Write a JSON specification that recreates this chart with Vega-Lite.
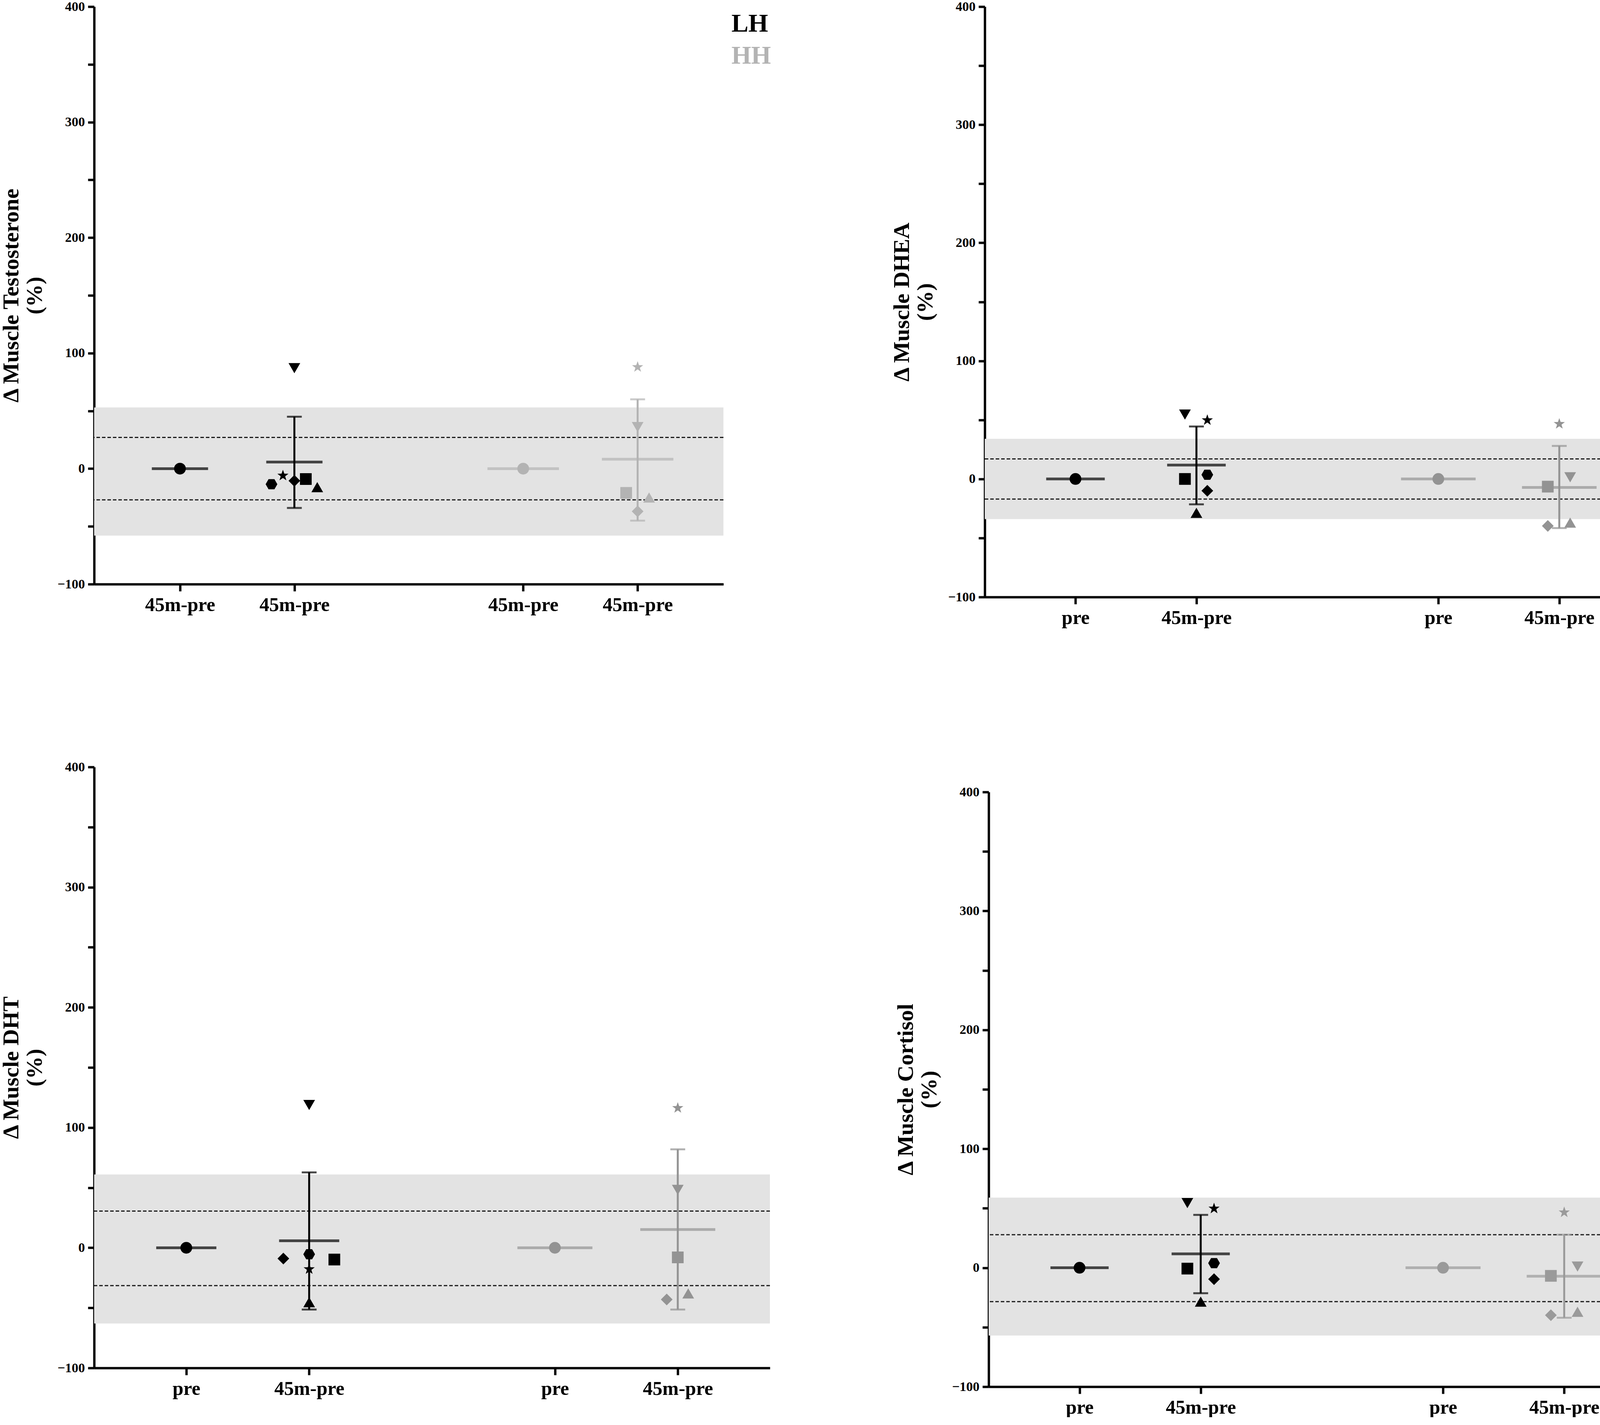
{
  "$schema": "https://vega.github.io/schema/vega-lite/v6.json",
  "background": "white",
  "padding": {"left": 0, "top": 0, "right": 0, "bottom": 0},
  "config": {
    "view": {"stroke": null},
    "axis": {"grid": false, "domainColor": "#000000", "domainWidth": 6, "tickColor": "#000000", "tickWidth": 6, "labelColor": "#000000", "labelFont": "Liberation Serif", "labelFontWeight": "bold", "titleFont": "Liberation Serif", "titleFontWeight": "bold", "titleColor": "#000000"},
    "axisX": {"labelFontSize": 50, "tickSize": 18, "labelPadding": 10},
    "axisY": {"labelFontSize": 34, "labelPadding": 8, "tickSize": 16, "titleFontSize": 58, "titlePadding": 28}
  },
  "datasets": {
    "points": [
      {"panel": "T", "group": "LH", "subject": "pre", "px": 0.75, "val": 0},
      {"panel": "T", "group": "LH", "subject": "s1", "px": 1.55, "val": -13.5},
      {"panel": "T", "group": "LH", "subject": "s2", "px": 1.65, "val": -6},
      {"panel": "T", "group": "LH", "subject": "s3", "px": 1.75, "val": -10.5},
      {"panel": "T", "group": "LH", "subject": "s4", "px": 1.85, "val": -9},
      {"panel": "T", "group": "LH", "subject": "s5", "px": 1.95, "val": -16},
      {"panel": "T", "group": "LH", "subject": "s6", "px": 1.75, "val": 87},
      {"panel": "T", "group": "HH", "subject": "pre", "px": 3.75, "val": 0},
      {"panel": "T", "group": "HH", "subject": "s2", "px": 4.75, "val": 88},
      {"panel": "T", "group": "HH", "subject": "s6", "px": 4.75, "val": 36},
      {"panel": "T", "group": "HH", "subject": "s4", "px": 4.65, "val": -21},
      {"panel": "T", "group": "HH", "subject": "s5", "px": 4.85, "val": -25},
      {"panel": "T", "group": "HH", "subject": "s3", "px": 4.75, "val": -37},
      {"panel": "DHEA", "group": "LH", "subject": "pre", "px": 0.75, "val": 0},
      {"panel": "DHEA", "group": "LH", "subject": "s6", "px": 1.655, "val": 54.5},
      {"panel": "DHEA", "group": "LH", "subject": "s2", "px": 1.84, "val": 49.8},
      {"panel": "DHEA", "group": "LH", "subject": "s4", "px": 1.655, "val": 0},
      {"panel": "DHEA", "group": "LH", "subject": "s1", "px": 1.84, "val": 3.6},
      {"panel": "DHEA", "group": "LH", "subject": "s3", "px": 1.84, "val": -10},
      {"panel": "DHEA", "group": "LH", "subject": "s5", "px": 1.75, "val": -28.7},
      {"panel": "DHEA", "group": "HH", "subject": "pre", "px": 3.75, "val": 0},
      {"panel": "DHEA", "group": "HH", "subject": "s2", "px": 4.75, "val": 46.6},
      {"panel": "DHEA", "group": "HH", "subject": "s6", "px": 4.84, "val": 1.4},
      {"panel": "DHEA", "group": "HH", "subject": "s4", "px": 4.655, "val": -6.5},
      {"panel": "DHEA", "group": "HH", "subject": "s3", "px": 4.655, "val": -39.8},
      {"panel": "DHEA", "group": "HH", "subject": "s5", "px": 4.84, "val": -37},
      {"panel": "DHT", "group": "LH", "subject": "pre", "px": 0.75, "val": 0},
      {"panel": "DHT", "group": "LH", "subject": "s6", "px": 1.75, "val": 118.8},
      {"panel": "DHT", "group": "LH", "subject": "s3", "px": 1.54, "val": -9},
      {"panel": "DHT", "group": "LH", "subject": "s1", "px": 1.75, "val": -5.4},
      {"panel": "DHT", "group": "LH", "subject": "s2", "px": 1.75, "val": -17.8},
      {"panel": "DHT", "group": "LH", "subject": "s4", "px": 1.955, "val": -9.8},
      {"panel": "DHT", "group": "LH", "subject": "s5", "px": 1.75, "val": -45.3},
      {"panel": "DHT", "group": "HH", "subject": "pre", "px": 3.75, "val": 0},
      {"panel": "DHT", "group": "HH", "subject": "s2", "px": 4.75, "val": 116.3},
      {"panel": "DHT", "group": "HH", "subject": "s6", "px": 4.75, "val": 48.2},
      {"panel": "DHT", "group": "HH", "subject": "s4", "px": 4.75, "val": -8},
      {"panel": "DHT", "group": "HH", "subject": "s3", "px": 4.66, "val": -43},
      {"panel": "DHT", "group": "HH", "subject": "s5", "px": 4.835, "val": -38},
      {"panel": "C", "group": "LH", "subject": "pre", "px": 0.75, "val": 0},
      {"panel": "C", "group": "LH", "subject": "s6", "px": 1.64, "val": 54.4},
      {"panel": "C", "group": "LH", "subject": "s2", "px": 1.86, "val": 49.8},
      {"panel": "C", "group": "LH", "subject": "s4", "px": 1.64, "val": -0.7},
      {"panel": "C", "group": "LH", "subject": "s1", "px": 1.86, "val": 3.9},
      {"panel": "C", "group": "LH", "subject": "s3", "px": 1.86, "val": -9.6},
      {"panel": "C", "group": "LH", "subject": "s5", "px": 1.75, "val": -28.5},
      {"panel": "C", "group": "HH", "subject": "pre", "px": 3.75, "val": 0},
      {"panel": "C", "group": "HH", "subject": "s2", "px": 4.75, "val": 46.6},
      {"panel": "C", "group": "HH", "subject": "s6", "px": 4.86, "val": 1},
      {"panel": "C", "group": "HH", "subject": "s4", "px": 4.64, "val": -6.8},
      {"panel": "C", "group": "HH", "subject": "s3", "px": 4.64, "val": -39.9},
      {"panel": "C", "group": "HH", "subject": "s5", "px": 4.86, "val": -37}
    ],
    "summary": [
      {"panel": "T", "group": "LH", "px": 0.75, "mean": 0, "lo": 0, "hi": 0},
      {"panel": "T", "group": "LH", "px": 1.75, "mean": 5.7, "lo": -34, "hi": 45},
      {"panel": "T", "group": "HH", "px": 3.75, "mean": 0, "lo": 0, "hi": 0},
      {"panel": "T", "group": "HH", "px": 4.75, "mean": 8.2, "lo": -45, "hi": 60},
      {"panel": "DHEA", "group": "LH", "px": 0.75, "mean": 0, "lo": 0, "hi": 0},
      {"panel": "DHEA", "group": "LH", "px": 1.75, "mean": 11.8, "lo": -21.5, "hi": 44.4},
      {"panel": "DHEA", "group": "HH", "px": 3.75, "mean": 0, "lo": 0, "hi": 0},
      {"panel": "DHEA", "group": "HH", "px": 4.75, "mean": -7.2, "lo": -41.6, "hi": 28},
      {"panel": "DHT", "group": "LH", "px": 0.75, "mean": 0, "lo": 0, "hi": 0},
      {"panel": "DHT", "group": "LH", "px": 1.75, "mean": 5.8, "lo": -51.4, "hi": 62.7},
      {"panel": "DHT", "group": "HH", "px": 3.75, "mean": 0, "lo": 0, "hi": 0},
      {"panel": "DHT", "group": "HH", "px": 4.75, "mean": 15.2, "lo": -51.4, "hi": 81.9},
      {"panel": "C", "group": "LH", "px": 0.75, "mean": 0, "lo": 0, "hi": 0},
      {"panel": "C", "group": "LH", "px": 1.75, "mean": 11.7, "lo": -21.4, "hi": 44.5},
      {"panel": "C", "group": "HH", "px": 3.75, "mean": 0, "lo": 0, "hi": 0},
      {"panel": "C", "group": "HH", "px": 4.75, "mean": -7.1, "lo": -42, "hi": 27.8}
    ],
    "refs": [
      {"panel": "T", "band_lo": -58, "band_hi": 53, "sd_lo": -27, "sd_hi": 27},
      {"panel": "DHEA", "band_lo": -34, "band_hi": 34, "sd_lo": -17, "sd_hi": 17},
      {"panel": "DHT", "band_lo": -63, "band_hi": 61, "sd_lo": -31.5, "sd_hi": 30.5},
      {"panel": "C", "band_lo": -57, "band_hi": 59, "sd_lo": -28.5, "sd_hi": 27.8}
    ]
  },
  "spacing": 340,
  "vconcat": [
    {
      "spacing": 306,
      "hconcat": [
        {
          "width": 1611, "height": 1478,
          "layer": [
            {"data": {"name": "refs"}, "transform": [{"filter": "datum.panel == 'T'"}],
             "mark": {"type": "rect", "color": "#e3e3e3"},
             "encoding": {
               "y": {"field": "band_lo", "type": "quantitative", "scale": {"domain": [-100, 400], "nice": false, "zero": false},
                     "axis": {"values": [-100, -50, 0, 50, 100, 150, 200, 250, 300, 350, 400], "labelExpr": "datum.value % 100 == 0 ? datum.label : ''",
                              "title": ["\u0394 Muscle Testosterone", "(%)"]}},
               "y2": {"field": "band_hi"}}},
            {"data": {"name": "refs"}, "transform": [{"filter": "datum.panel == 'T'"}],
             "mark": {"type": "rule", "color": "#1a1a1a", "strokeWidth": 3, "strokeDash": [9, 5]},
             "encoding": {"y": {"field": "sd_hi", "type": "quantitative"}}},
            {"data": {"name": "refs"}, "transform": [{"filter": "datum.panel == 'T'"}],
             "mark": {"type": "rule", "color": "#1a1a1a", "strokeWidth": 3, "strokeDash": [9, 5]},
             "encoding": {"y": {"field": "sd_lo", "type": "quantitative"}}},
            {"data": {"name": "summary"}, "transform": [{"filter": "datum.panel == 'T' && datum.hi > datum.lo"}],
             "mark": {"type": "rule", "strokeWidth": 5},
             "encoding": {"x": {"field": "px", "type": "quantitative", "scale": {"domain": [0, 5.5], "nice": false, "zero": false},
                     "axis": {"values": [0.75, 1.75, 3.75, 4.75], "labelExpr": "'45m-pre'", "title": null}},
               "y": {"field": "lo", "type": "quantitative"}, "y2": {"field": "hi"},
               "color": {"condition": {"test": "datum.group == 'LH'", "value": "#000000"}, "value": "#b3b3b3"}}},
            {"data": {"name": "summary"}, "transform": [{"filter": "datum.panel == 'T' && datum.hi > datum.lo"}],
             "mark": {"type": "tick", "orient": "horizontal", "thickness": 5, "size": 38},
             "encoding": {"x": {"field": "px", "type": "quantitative"}, "y": {"field": "lo", "type": "quantitative"},
               "color": {"condition": {"test": "datum.group == 'LH'", "value": "#000000"}, "value": "#b3b3b3"}}},
            {"data": {"name": "summary"}, "transform": [{"filter": "datum.panel == 'T' && datum.hi > datum.lo"}],
             "mark": {"type": "tick", "orient": "horizontal", "thickness": 5, "size": 38},
             "encoding": {"x": {"field": "px", "type": "quantitative"}, "y": {"field": "hi", "type": "quantitative"},
               "color": {"condition": {"test": "datum.group == 'LH'", "value": "#000000"}, "value": "#b3b3b3"}}},
            {"data": {"name": "summary"}, "transform": [{"filter": "datum.panel == 'T' && datum.group == 'LH'"}],
             "mark": {"type": "tick", "orient": "horizontal", "thickness": 7, "size": 144, "color": "#000000"},
             "encoding": {"x": {"field": "px", "type": "quantitative"}, "y": {"field": "mean", "type": "quantitative"}}},
            {"data": {"name": "summary"}, "transform": [{"filter": "datum.panel == 'T' && datum.group == 'HH'"}],
             "mark": {"type": "tick", "orient": "horizontal", "thickness": 7, "size": 183, "color": "#b3b3b3"},
             "encoding": {"x": {"field": "px", "type": "quantitative"}, "y": {"field": "mean", "type": "quantitative"}}},
            {"data": {"name": "points"}, "transform": [{"filter": "datum.panel == 'T'"}],
             "mark": {"type": "point", "filled": true, "opacity": 1, "size": 900},
             "encoding": {"x": {"field": "px", "type": "quantitative"}, "y": {"field": "val", "type": "quantitative"},
               "shape": {"field": "subject", "type": "nominal", "legend": null,
                         "scale": {"domain": ["pre", "s1", "s2", "s3", "s4", "s5", "s6"],
                                   "range": ["circle", "M-1,0L-0.5,-0.866L0.5,-0.866L1,0L0.5,0.866L-0.5,0.866Z", "M0,-1L0.235,-0.324L0.951,-0.309L0.38,0.124L0.588,0.809L0,0.4L-0.588,0.809L-0.38,0.124L-0.951,-0.309L-0.235,-0.324Z", "diamond", "square", "triangle-up", "triangle-down"]}},
               "color": {"condition": {"test": "datum.group == 'LH'", "value": "#000000"}, "value": "#b3b3b3"}}},
            {"data": {"values": [{"group": "LH"}]},
             "mark": {"type": "text", "align": "left", "baseline": "middle", "font": "Liberation Serif", "fontWeight": "bold", "fontSize": 65, "color": "#000000"},
             "encoding": {"x": {"datum": 5.57, "type": "quantitative"}, "y": {"datum": 385, "type": "quantitative"}, "text": {"field": "group"}}},
            {"data": {"values": [{"group": "HH"}]},
             "mark": {"type": "text", "align": "left", "baseline": "middle", "font": "Liberation Serif", "fontWeight": "bold", "fontSize": 65, "color": "#b3b3b3"},
             "encoding": {"x": {"datum": 5.57, "type": "quantitative"}, "y": {"datum": 357.5, "type": "quantitative"}, "text": {"field": "group"}}}
          ]
        },
        {
          "width": 1703, "height": 1511,
          "layer": [
            {"data": {"name": "refs"}, "transform": [{"filter": "datum.panel == 'DHEA'"}],
             "mark": {"type": "rect", "color": "#e3e3e3"},
             "encoding": {
               "y": {"field": "band_lo", "type": "quantitative", "scale": {"domain": [-100, 400], "nice": false, "zero": false},
                     "axis": {"values": [-100, -50, 0, 50, 100, 150, 200, 250, 300, 350, 400], "labelExpr": "datum.value % 100 == 0 ? datum.label : ''",
                              "title": ["\u0394 Muscle DHEA", "(%)"]}},
               "y2": {"field": "band_hi"}}},
            {"data": {"name": "refs"}, "transform": [{"filter": "datum.panel == 'DHEA'"}],
             "mark": {"type": "rule", "color": "#1a1a1a", "strokeWidth": 3, "strokeDash": [9, 5]},
             "encoding": {"y": {"field": "sd_hi", "type": "quantitative"}}},
            {"data": {"name": "refs"}, "transform": [{"filter": "datum.panel == 'DHEA'"}],
             "mark": {"type": "rule", "color": "#1a1a1a", "strokeWidth": 3, "strokeDash": [9, 5]},
             "encoding": {"y": {"field": "sd_lo", "type": "quantitative"}}},
            {"data": {"name": "summary"}, "transform": [{"filter": "datum.panel == 'DHEA' && datum.hi > datum.lo"}],
             "mark": {"type": "rule", "strokeWidth": 5},
             "encoding": {"x": {"field": "px", "type": "quantitative", "scale": {"domain": [0, 5.5], "nice": false, "zero": false},
                     "axis": {"values": [0.75, 1.75, 3.75, 4.75], "labelExpr": "(datum.value < 1 || (datum.value > 3 && datum.value < 4)) ? 'pre' : '45m-pre'", "title": null}},
               "y": {"field": "lo", "type": "quantitative"}, "y2": {"field": "hi"},
               "color": {"condition": {"test": "datum.group == 'LH'", "value": "#000000"}, "value": "#939393"}}},
            {"data": {"name": "summary"}, "transform": [{"filter": "datum.panel == 'DHEA' && datum.hi > datum.lo"}],
             "mark": {"type": "tick", "orient": "horizontal", "thickness": 5, "size": 38},
             "encoding": {"x": {"field": "px", "type": "quantitative"}, "y": {"field": "lo", "type": "quantitative"},
               "color": {"condition": {"test": "datum.group == 'LH'", "value": "#000000"}, "value": "#939393"}}},
            {"data": {"name": "summary"}, "transform": [{"filter": "datum.panel == 'DHEA' && datum.hi > datum.lo"}],
             "mark": {"type": "tick", "orient": "horizontal", "thickness": 5, "size": 38},
             "encoding": {"x": {"field": "px", "type": "quantitative"}, "y": {"field": "hi", "type": "quantitative"},
               "color": {"condition": {"test": "datum.group == 'LH'", "value": "#000000"}, "value": "#939393"}}},
            {"data": {"name": "summary"}, "transform": [{"filter": "datum.panel == 'DHEA' && datum.group == 'LH'"}],
             "mark": {"type": "tick", "orient": "horizontal", "thickness": 7, "size": 150, "color": "#000000"},
             "encoding": {"x": {"field": "px", "type": "quantitative"}, "y": {"field": "mean", "type": "quantitative"}}},
            {"data": {"name": "summary"}, "transform": [{"filter": "datum.panel == 'DHEA' && datum.group == 'HH'"}],
             "mark": {"type": "tick", "orient": "horizontal", "thickness": 7, "size": 191, "color": "#939393"},
             "encoding": {"x": {"field": "px", "type": "quantitative"}, "y": {"field": "mean", "type": "quantitative"}}},
            {"data": {"name": "points"}, "transform": [{"filter": "datum.panel == 'DHEA'"}],
             "mark": {"type": "point", "filled": true, "opacity": 1, "size": 900},
             "encoding": {"x": {"field": "px", "type": "quantitative"}, "y": {"field": "val", "type": "quantitative"},
               "shape": {"field": "subject", "type": "nominal", "legend": null,
                         "scale": {"domain": ["pre", "s1", "s2", "s3", "s4", "s5", "s6"],
                                   "range": ["circle", "M-1,0L-0.5,-0.866L0.5,-0.866L1,0L0.5,0.866L-0.5,0.866Z", "M0,-1L0.235,-0.324L0.951,-0.309L0.38,0.124L0.588,0.809L0,0.4L-0.588,0.809L-0.38,0.124L-0.951,-0.309L-0.235,-0.324Z", "diamond", "square", "triangle-up", "triangle-down"]}},
               "color": {"condition": {"test": "datum.group == 'LH'", "value": "#000000"}, "value": "#939393"}}}
          ]
        }
      ]
    },
    {
      "spacing": 317,
      "hconcat": [
        {
          "width": 1730, "height": 1538,
          "layer": [
            {"data": {"name": "refs"}, "transform": [{"filter": "datum.panel == 'DHT'"}],
             "mark": {"type": "rect", "color": "#e3e3e3"},
             "encoding": {
               "y": {"field": "band_lo", "type": "quantitative", "scale": {"domain": [-100, 400], "nice": false, "zero": false},
                     "axis": {"values": [-100, -50, 0, 50, 100, 150, 200, 250, 300, 350, 400], "labelExpr": "datum.value % 100 == 0 ? datum.label : ''",
                              "title": ["\u0394 Muscle DHT", "(%)"]}},
               "y2": {"field": "band_hi"}}},
            {"data": {"name": "refs"}, "transform": [{"filter": "datum.panel == 'DHT'"}],
             "mark": {"type": "rule", "color": "#1a1a1a", "strokeWidth": 3, "strokeDash": [9, 5]},
             "encoding": {"y": {"field": "sd_hi", "type": "quantitative"}}},
            {"data": {"name": "refs"}, "transform": [{"filter": "datum.panel == 'DHT'"}],
             "mark": {"type": "rule", "color": "#1a1a1a", "strokeWidth": 3, "strokeDash": [9, 5]},
             "encoding": {"y": {"field": "sd_lo", "type": "quantitative"}}},
            {"data": {"name": "summary"}, "transform": [{"filter": "datum.panel == 'DHT' && datum.hi > datum.lo"}],
             "mark": {"type": "rule", "strokeWidth": 5},
             "encoding": {"x": {"field": "px", "type": "quantitative", "scale": {"domain": [0, 5.5], "nice": false, "zero": false},
                     "axis": {"values": [0.75, 1.75, 3.75, 4.75], "labelExpr": "(datum.value < 1 || (datum.value > 3 && datum.value < 4)) ? 'pre' : '45m-pre'", "title": null}},
               "y": {"field": "lo", "type": "quantitative"}, "y2": {"field": "hi"},
               "color": {"condition": {"test": "datum.group == 'LH'", "value": "#000000"}, "value": "#939393"}}},
            {"data": {"name": "summary"}, "transform": [{"filter": "datum.panel == 'DHT' && datum.hi > datum.lo"}],
             "mark": {"type": "tick", "orient": "horizontal", "thickness": 5, "size": 38},
             "encoding": {"x": {"field": "px", "type": "quantitative"}, "y": {"field": "lo", "type": "quantitative"},
               "color": {"condition": {"test": "datum.group == 'LH'", "value": "#000000"}, "value": "#939393"}}},
            {"data": {"name": "summary"}, "transform": [{"filter": "datum.panel == 'DHT' && datum.hi > datum.lo"}],
             "mark": {"type": "tick", "orient": "horizontal", "thickness": 5, "size": 38},
             "encoding": {"x": {"field": "px", "type": "quantitative"}, "y": {"field": "hi", "type": "quantitative"},
               "color": {"condition": {"test": "datum.group == 'LH'", "value": "#000000"}, "value": "#939393"}}},
            {"data": {"name": "summary"}, "transform": [{"filter": "datum.panel == 'DHT' && datum.group == 'LH'"}],
             "mark": {"type": "tick", "orient": "horizontal", "thickness": 7, "size": 154, "color": "#000000"},
             "encoding": {"x": {"field": "px", "type": "quantitative"}, "y": {"field": "mean", "type": "quantitative"}}},
            {"data": {"name": "summary"}, "transform": [{"filter": "datum.panel == 'DHT' && datum.group == 'HH'"}],
             "mark": {"type": "tick", "orient": "horizontal", "thickness": 7, "size": 192, "color": "#939393"},
             "encoding": {"x": {"field": "px", "type": "quantitative"}, "y": {"field": "mean", "type": "quantitative"}}},
            {"data": {"name": "points"}, "transform": [{"filter": "datum.panel == 'DHT'"}],
             "mark": {"type": "point", "filled": true, "opacity": 1, "size": 900},
             "encoding": {"x": {"field": "px", "type": "quantitative"}, "y": {"field": "val", "type": "quantitative"},
               "shape": {"field": "subject", "type": "nominal", "legend": null,
                         "scale": {"domain": ["pre", "s1", "s2", "s3", "s4", "s5", "s6"],
                                   "range": ["circle", "M-1,0L-0.5,-0.866L0.5,-0.866L1,0L0.5,0.866L-0.5,0.866Z", "M0,-1L0.235,-0.324L0.951,-0.309L0.38,0.124L0.588,0.809L0,0.4L-0.588,0.809L-0.38,0.124L-0.951,-0.309L-0.235,-0.324Z", "diamond", "square", "triangle-up", "triangle-down"]}},
               "color": {"condition": {"test": "datum.group == 'LH'", "value": "#000000"}, "value": "#939393"}}}
          ]
        },
        {
          "spacing": 0,
          "vconcat": [
            {"width": 10, "height": 47, "data": {"values": [{}]}, "mark": {"type": "point", "opacity": 0}, "encoding": {}},
            {
              "width": 1706, "height": 1522,
              "layer": [
                {"data": {"name": "refs"}, "transform": [{"filter": "datum.panel == 'C'"}],
                 "mark": {"type": "rect", "color": "#e3e3e3"},
                 "encoding": {
                   "y": {"field": "band_lo", "type": "quantitative", "scale": {"domain": [-100, 400], "nice": false, "zero": false},
                         "axis": {"values": [-100, -50, 0, 50, 100, 150, 200, 250, 300, 350, 400], "labelExpr": "datum.value % 100 == 0 ? datum.label : ''",
                                  "title": ["\u0394 Muscle Cortisol", "(%)"]}},
                   "y2": {"field": "band_hi"}}},
                {"data": {"name": "refs"}, "transform": [{"filter": "datum.panel == 'C'"}],
                 "mark": {"type": "rule", "color": "#1a1a1a", "strokeWidth": 3, "strokeDash": [9, 5]},
                 "encoding": {"y": {"field": "sd_hi", "type": "quantitative"}}},
                {"data": {"name": "refs"}, "transform": [{"filter": "datum.panel == 'C'"}],
                 "mark": {"type": "rule", "color": "#1a1a1a", "strokeWidth": 3, "strokeDash": [9, 5]},
                 "encoding": {"y": {"field": "sd_lo", "type": "quantitative"}}},
                {"data": {"name": "summary"}, "transform": [{"filter": "datum.panel == 'C' && datum.hi > datum.lo"}],
                 "mark": {"type": "rule", "strokeWidth": 5},
                 "encoding": {"x": {"field": "px", "type": "quantitative", "scale": {"domain": [0, 5.5], "nice": false, "zero": false},
                         "axis": {"values": [0.75, 1.75, 3.75, 4.75], "labelExpr": "(datum.value < 1 || (datum.value > 3 && datum.value < 4)) ? 'pre' : '45m-pre'", "title": null}},
                   "y": {"field": "lo", "type": "quantitative"}, "y2": {"field": "hi"},
                   "color": {"condition": {"test": "datum.group == 'LH'", "value": "#000000"}, "value": "#9a9a9a"}}},
                {"data": {"name": "summary"}, "transform": [{"filter": "datum.panel == 'C' && datum.hi > datum.lo"}],
                 "mark": {"type": "tick", "orient": "horizontal", "thickness": 5, "size": 38},
                 "encoding": {"x": {"field": "px", "type": "quantitative"}, "y": {"field": "lo", "type": "quantitative"},
                   "color": {"condition": {"test": "datum.group == 'LH'", "value": "#000000"}, "value": "#9a9a9a"}}},
                {"data": {"name": "summary"}, "transform": [{"filter": "datum.panel == 'C' && datum.hi > datum.lo"}],
                 "mark": {"type": "tick", "orient": "horizontal", "thickness": 5, "size": 38},
                 "encoding": {"x": {"field": "px", "type": "quantitative"}, "y": {"field": "hi", "type": "quantitative"},
                   "color": {"condition": {"test": "datum.group == 'LH'", "value": "#000000"}, "value": "#9a9a9a"}}},
                {"data": {"name": "summary"}, "transform": [{"filter": "datum.panel == 'C' && datum.group == 'LH'"}],
                 "mark": {"type": "tick", "orient": "horizontal", "thickness": 7, "size": 149, "color": "#000000"},
                 "encoding": {"x": {"field": "px", "type": "quantitative"}, "y": {"field": "mean", "type": "quantitative"}}},
                {"data": {"name": "summary"}, "transform": [{"filter": "datum.panel == 'C' && datum.group == 'HH'"}],
                 "mark": {"type": "tick", "orient": "horizontal", "thickness": 7, "size": 192, "color": "#9a9a9a"},
                 "encoding": {"x": {"field": "px", "type": "quantitative"}, "y": {"field": "mean", "type": "quantitative"}}},
                {"data": {"name": "points"}, "transform": [{"filter": "datum.panel == 'C'"}],
                 "mark": {"type": "point", "filled": true, "opacity": 1, "size": 900},
                 "encoding": {"x": {"field": "px", "type": "quantitative"}, "y": {"field": "val", "type": "quantitative"},
                   "shape": {"field": "subject", "type": "nominal", "legend": null,
                             "scale": {"domain": ["pre", "s1", "s2", "s3", "s4", "s5", "s6"],
                                       "range": ["circle", "M-1,0L-0.5,-0.866L0.5,-0.866L1,0L0.5,0.866L-0.5,0.866Z", "M0,-1L0.235,-0.324L0.951,-0.309L0.38,0.124L0.588,0.809L0,0.4L-0.588,0.809L-0.38,0.124L-0.951,-0.309L-0.235,-0.324Z", "diamond", "square", "triangle-up", "triangle-down"]}},
                   "color": {"condition": {"test": "datum.group == 'LH'", "value": "#000000"}, "value": "#9a9a9a"}}}
              ]
            }
          ]
        }
      ]
    }
  ]
}
